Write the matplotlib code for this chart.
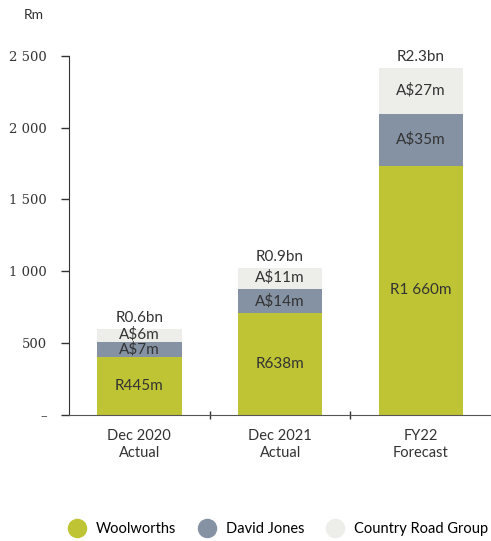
import matplotlib
matplotlib.use("Agg")
import matplotlib.pyplot as plt
from matplotlib.lines import Line2D
import numpy as np

# data
categories = ["Dec 2020\nActual", "Dec 2021\nActual", "FY22\nForecast"]
woolworths = [406, 708, 1736]
david_jones = [104, 172, 360]
country_road = [89, 142, 318]
ww_labels = ["R445m", "R638m", "R1 660m"]
dj_labels = ["A$7m", "A$14m", "A$35m"]
crg_labels = ["A$6m", "A$11m", "A$27m"]
total_labels = ["R0.6bn", "R0.9bn", "R2.3bn"]
yticks = [0, 500, 1000, 1500, 2000, 2500]
ytick_labels = ["–", "500", "1 000", "1 500", "2 000", "2 500"]
series_names = ["Woolworths", "David Jones", "Country Road Group"]

C_WW = "#bec434"
C_DJ = "#8592a3"
C_CRG = "#ededea"
TXT = "#333333"
LABEL_FONT = "Lato"

fig = plt.figure(figsize=(4.91, 5.41), dpi=100)
ax = fig.add_axes([0.1405, 0.233, 0.86, 0.664])

x = np.arange(len(categories))
ww = np.array(woolworths)
dj = np.array(david_jones)
crg = np.array(country_road)
w = 0.6

ax.bar(x, ww, width=w, color=C_WW, zorder=2)
ax.bar(x, dj, width=w, bottom=ww, color=C_DJ, zorder=2)
ax.bar(x, crg, width=w, bottom=ww + dj, color=C_CRG, zorder=2)

kw = dict(ha="center", va="center", fontsize=11, color=TXT, family=LABEL_FONT, zorder=3)
for i in range(len(x)):
    ax.text(x[i], ww[i] / 2, ww_labels[i], **kw)
    ax.text(x[i], ww[i] + dj[i] / 2, dj_labels[i], **kw)
    ax.text(x[i], ww[i] + dj[i] + crg[i] / 2 + 8, crg_labels[i], **kw)
    ax.text(x[i], ww[i] + dj[i] + crg[i] + 78, total_labels[i], clip_on=False, **kw)

ax.set_xlim(-0.5, 2.5)
ax.set_ylim(0, 2500)

ax.set_yticks(yticks)
ax.set_yticklabels(ytick_labels, family="DejaVu Serif", fontsize=9.5, color=TXT)
ax.tick_params(axis="y", length=6, width=1, color="#333333", pad=10)

ax.set_xticks(x)
ax.set_xticklabels(categories, family=LABEL_FONT, fontsize=10.5, color=TXT, linespacing=1.3)
ax.tick_params(axis="x", which="major", length=0, pad=10)
ax.set_xticks([0.5, 1.5], minor=True)
ax.tick_params(axis="x", which="minor", length=6, direction="inout", width=1, color="#333333")

for s in ["top", "right"]:
    ax.spines[s].set_visible(False)
ax.spines["left"].set_color("#333333")
ax.spines["bottom"].set_color("#555555")

fig.text(0.068, 0.972, "Rm", ha="center", va="center", fontsize=10, color=TXT, family=LABEL_FONT)

handles = [Line2D([], [], marker="o", linestyle="none", markersize=13, color=c)
           for c in [C_WW, C_DJ, C_CRG]]
fig.legend(handles, series_names, loc="center", bbox_to_anchor=(0.56, 0.022), ncol=3,
           frameon=False, handletextpad=0.3, columnspacing=1.1,
           prop={"family": LABEL_FONT, "size": 10.5})

fig.savefig("out.png", dpi=100)
